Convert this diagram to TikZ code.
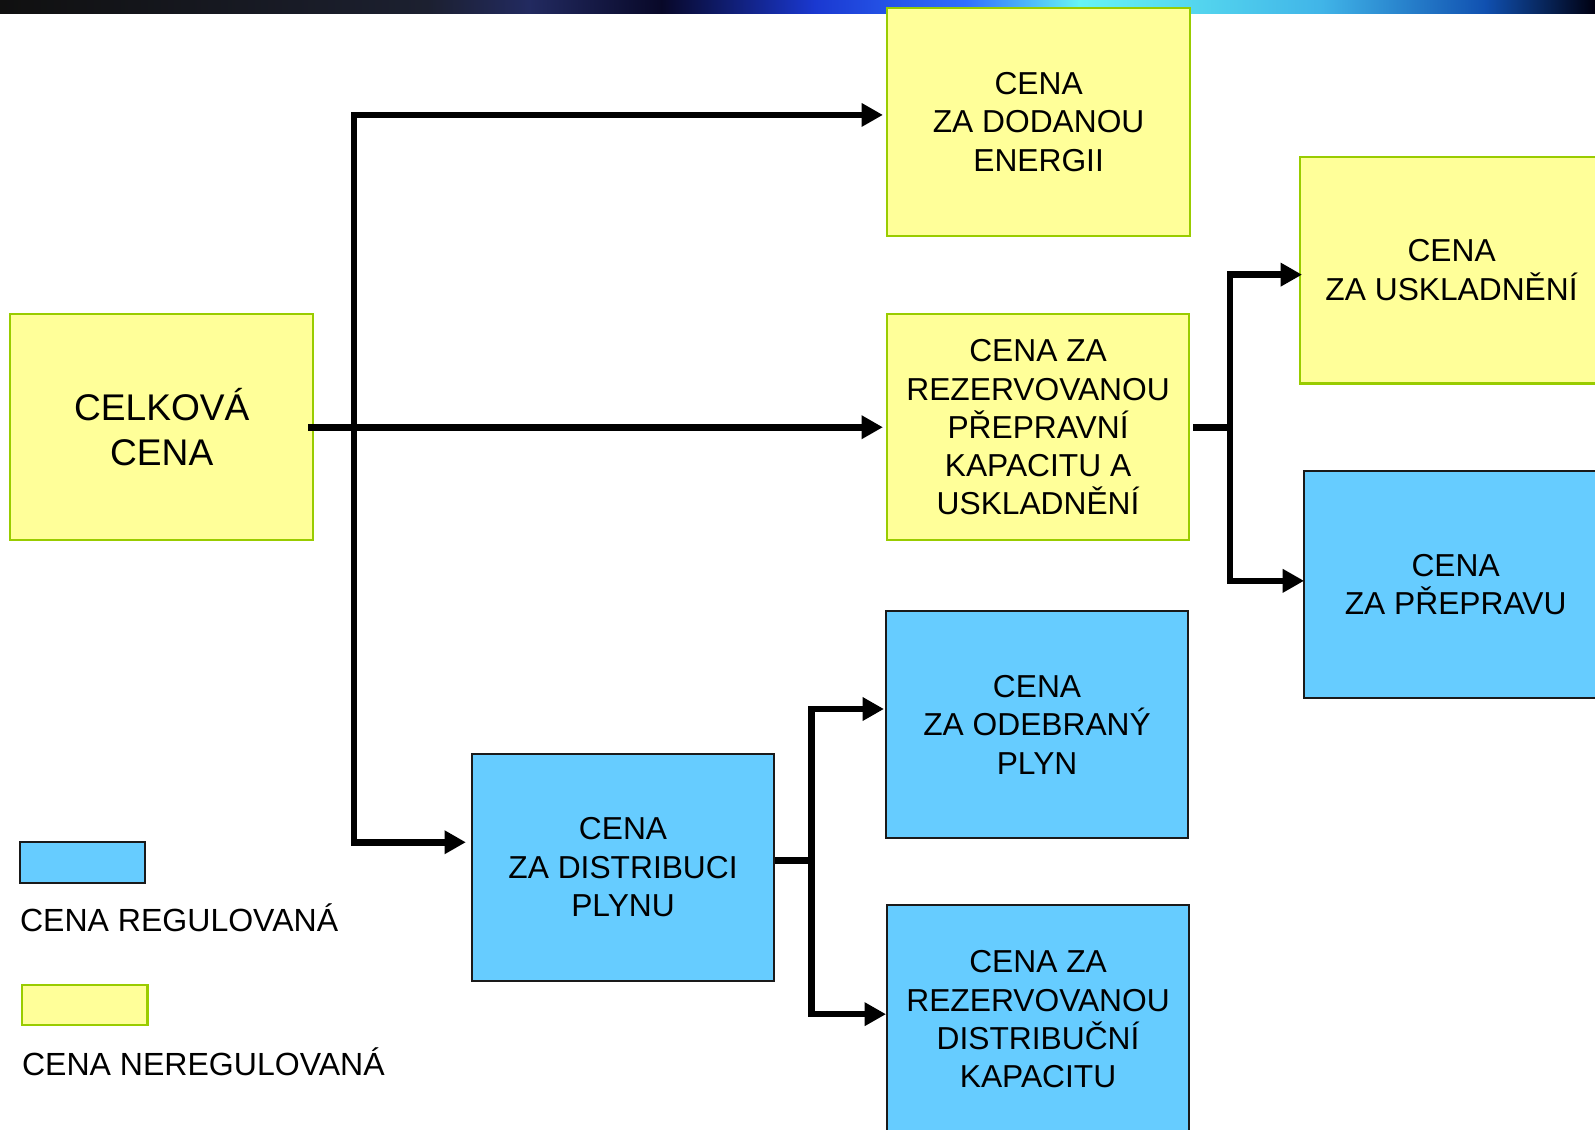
\documentclass[tikz,border=0pt]{standalone}
\usepackage{fontspec}
\setmainfont{Liberation Sans}
\usetikzlibrary{arrows.meta}
\definecolor{yfill}{HTML}{FFFF99}
\definecolor{ydraw}{HTML}{99CC00}
\definecolor{bfill}{HTML}{66CCFF}
\definecolor{bdraw}{HTML}{1A1A1A}
\definecolor{g0}{HTML}{101010}
\definecolor{g1}{HTML}{1C2030}
\definecolor{g2}{HTML}{222A60}
\definecolor{g3}{HTML}{080828}
\definecolor{g4}{HTML}{1A38D0}
\definecolor{g5}{HTML}{3070FF}
\definecolor{g6}{HTML}{66F4F4}
\definecolor{g7}{HTML}{40B4E8}
\definecolor{g8}{HTML}{1050B0}
\definecolor{g9}{HTML}{000010}
\begin{document}
\begin{tikzpicture}[x=1pt,y=-1pt,
  box/.style={rectangle, inner sep=0pt, minimum width=298pt, minimum height=223pt,
    line width=2pt, align=center, font=\fontsize{31.2}{37.5}\selectfont},
  yellowbox/.style={box, fill=yfill, draw=ydraw},
  bluebox/.style={box, fill=bfill, draw=bdraw},
  legtext/.style={anchor=base west, inner sep=0pt, font=\fontsize{31.5}{37.5}\selectfont},
  arr/.style={line width=6.5pt, line join=miter, -{Triangle[length=21pt,width=22pt]}},
  conn/.style={line width=6.5pt}]
\useasboundingbox (0,0) rectangle (1568,1110);
% top gradient bar
\shade[left color=g0, right color=g1] (0,0) rectangle (421,13);
\shade[left color=g1, right color=g2] (420,0) rectangle (521,13);
\shade[left color=g2, right color=g3] (520,0) rectangle (651,13);
\shade[left color=g3, right color=g4] (650,0) rectangle (801,13);
\shade[left color=g4, right color=g5] (800,0) rectangle (951,13);
\shade[left color=g5, right color=g6] (950,0) rectangle (1061,13);
\shade[left color=g6, right color=g7] (1060,0) rectangle (1301,13);
\shade[left color=g7, right color=g8] (1300,0) rectangle (1461,13);
\shade[left color=g8, right color=g9] (1460,0) rectangle (1568,13);
% boxes
\node[yellowbox, minimum height=222pt, font=\fontsize{36.5}{44}\selectfont] (celk) at (159,420) {CELKOVÁ\\CENA};
\node[yellowbox, minimum height=224pt] (dod) at (1021,120) {CENA\\ZA DODANOU\\ENERGII};
\node[yellowbox, minimum width=297pt, minimum height=222pt] (rez) at (1020.5,420) {CENA ZA\\REZERVOVANOU\\PŘEPRAVNÍ\\KAPACITU A\\USKLADNĚNÍ};
\node[yellowbox] (usk) at (1427,265.5) {CENA\\ZA USKLADNĚNÍ};
\node[bluebox] (pre) at (1431,574.5) {CENA\\ZA PŘEPRAVU};
\node[bluebox, minimum width=297pt] (ode) at (1019.5,712.5) {CENA\\ZA ODEBRANÝ\\PLYN};
\node[bluebox, minimum width=297pt, minimum height=224pt] (dka) at (1020.5,1002) {CENA ZA\\REZERVOVANOU\\DISTRIBUČNÍ\\KAPACITU};
\node[bluebox, minimum width=297pt] (dis) at (612.5,852.5) {CENA\\ZA DISTRIBUCI\\PLYNU};
% legend
\node[bluebox, minimum width=123pt, minimum height=40pt] (lb) at (81.5,848) {};
\node[yellowbox, minimum width=123pt, minimum height=40pt] (ly) at (83.5,988) {};
\node[legtext] (lbt) at (19.5,916) {CENA REGULOVANÁ};
\node[legtext] (lyt) at (21.5,1057) {CENA NEREGULOVANÁ};
% main connectors
\coordinate (jx) at (348,420);
\coordinate (jt) at (348,113);
\coordinate (jb) at (348,828);
\draw[arr, shorten >=3pt] ([xshift=-6pt]celk.east) -- (rez.west);
\draw[arr, shorten >=3pt] (jx) -- (jt) -- (jt -| dod.west);
\draw[arr, shorten >=5pt] (jx) -- (jb) -- (jb -| dis.west);
% right connectors
\coordinate (jr) at (1209,420);
\coordinate (jru) at (1209,270);
\coordinate (jrd) at (1209,571);
\draw[conn] ([xshift=3pt]rez.east) -- (jr);
\draw[arr, shorten >=-3pt] (jr) -- (jru) -- (jru -| usk.west);
\draw[arr, shorten >=-1pt] (jr) -- (jrd) -- (jrd -| pre.west);
% distribution connectors
\coordinate (jd) at (798,846);
\coordinate (jdu) at (798,697);
\coordinate (jdd) at (798,997);
\draw[conn] (dis.east |- jd) -- (jd);
\draw[arr, shorten >=1pt] (jd) -- (jdu) -- (jdu -| ode.west);
\draw[arr] (jd) -- (jdd) -- (jdd -| dka.west);
\end{tikzpicture}
\end{document}
